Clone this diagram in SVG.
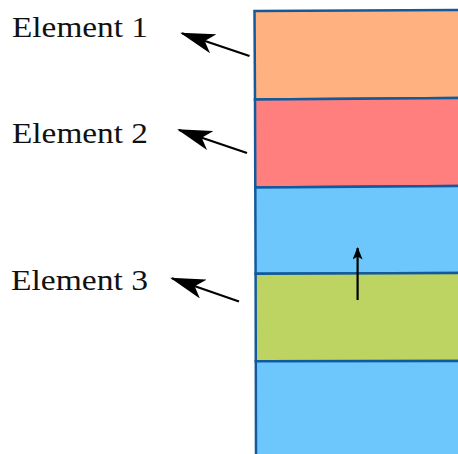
<svg xmlns="http://www.w3.org/2000/svg" width="458" height="454" viewBox="0 0 458 454">
  <defs>
    <style>
      .band { stroke: #135a9c; stroke-width: 2.5; stroke-linejoin: miter; }
      .label { font-family: "Liberation Serif", "DejaVu Serif", serif; font-size: 29px; fill: #111; }
      .conn { stroke: #000; stroke-width: 2.2; fill: none; }
    </style>
    <!-- swept-back arrowheads; the tip sits on the line's end point -->
    <marker id="stealth" viewBox="0 0 35 20" refX="33" refY="10" markerWidth="35" markerHeight="20" markerUnits="userSpaceOnUse" orient="auto">
      <path d="M0,0 L35,10 L0,20 L9,10 Z" fill="#000"/>
    </marker>
    <marker id="stealth-small" viewBox="0 0 12.5 10" refX="11.5" refY="5" markerWidth="12.5" markerHeight="10" markerUnits="userSpaceOnUse" orient="auto">
      <path d="M0,0 L12.5,5 L0,10 L3,5 Z" fill="#000"/>
    </marker>
  </defs>

  <!-- layered column -->
  <g id="layer-1"><polygon class="band" fill="#ffb27f" points="254.5,11 460,10 460,98 255,99.5"/></g>
  <g id="layer-2"><polygon class="band" fill="#ff7f7f" points="255,99.5 460,98 460,186 255.3,187.5"/></g>
  <g id="layer-3"><polygon class="band" fill="#6dc7fd" points="255.3,187.5 460,186 460,273 255.6,273.8"/></g>
  <g id="layer-4"><polygon class="band" fill="#bed462" points="255.6,273.8 460,273 460,361 255.8,361.3"/></g>
  <g id="layer-5"><polygon class="band" fill="#6dc7fd" points="255.8,361.3 460,361 460,460 256,460"/></g>

  <!-- labels -->
  <g id="label-1"><text class="label" x="12" y="37" textLength="136" lengthAdjust="spacingAndGlyphs">Element 1</text></g>
  <g id="label-2"><text class="label" x="12" y="143" textLength="136" lengthAdjust="spacingAndGlyphs">Element 2</text></g>
  <g id="label-3"><text class="label" x="11" y="290" textLength="137" lengthAdjust="spacingAndGlyphs">Element 3</text></g>

  <!-- connectors -->
  <g id="connectors">
    <line class="conn" x1="249.5" y1="56" x2="182" y2="33.3" marker-end="url(#stealth)"/>
    <line class="conn" x1="247" y1="153" x2="179" y2="130" marker-end="url(#stealth)"/>
    <line class="conn" x1="239" y1="301.5" x2="172" y2="278.3" marker-end="url(#stealth)"/>
    <line class="conn" x1="357.6" y1="300" x2="357.6" y2="248" marker-end="url(#stealth-small)"/>
  </g>
</svg>
